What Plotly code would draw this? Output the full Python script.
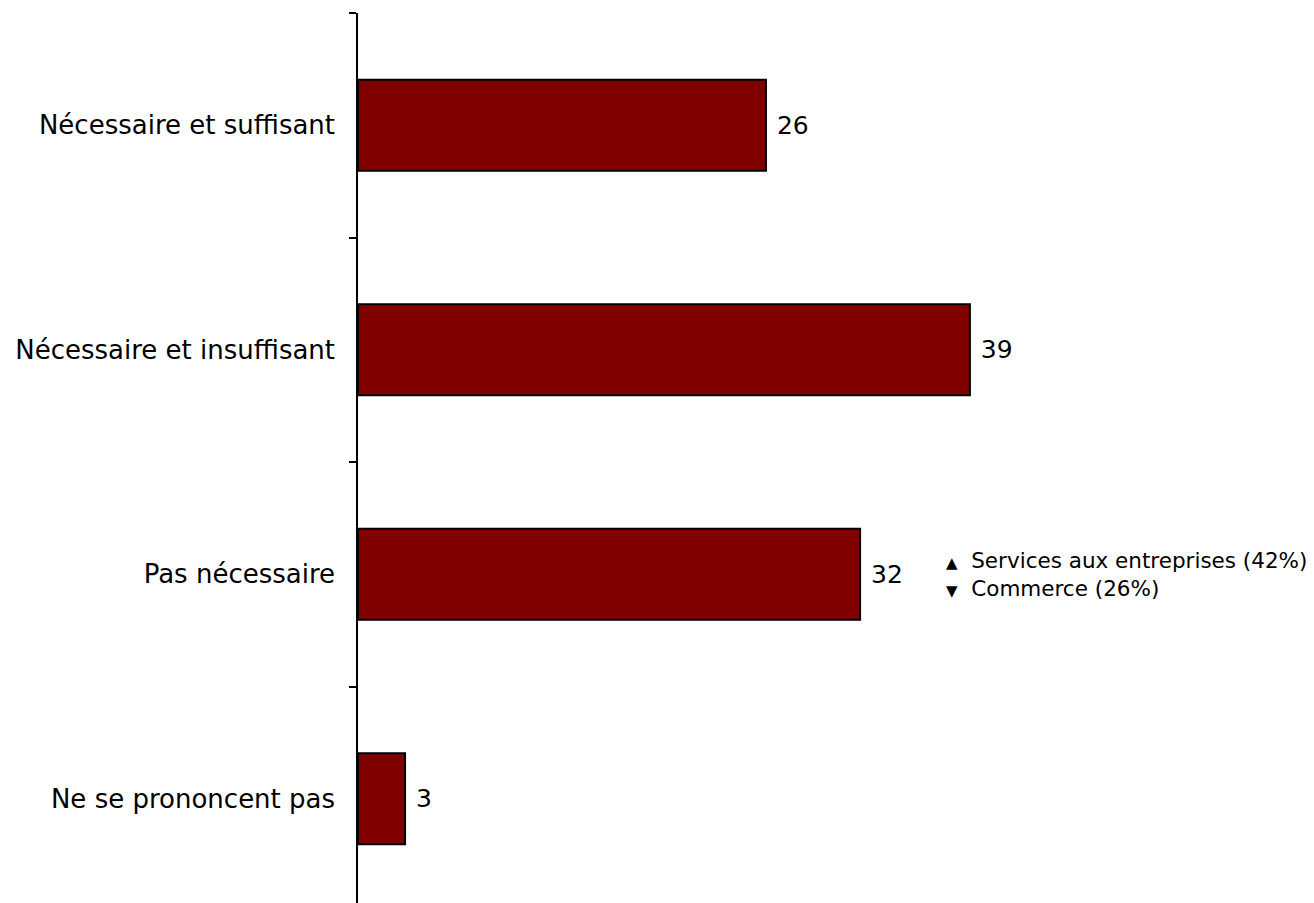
import plotly.graph_objects as go

categories = ["Nécessaire et suffisant", "Nécessaire et insuffisant", "Pas nécessaire", "Ne se prononcent pas"]
values = [26, 39, 32, 3]
note_markers = ["▲", "▼"]
note_texts = ["Services aux entreprises (42%)", "Commerce (26%)"]

FONT = "DejaVu Sans"

fig = go.Figure()
fig.add_trace(go.Bar(
    y=categories, x=values, orientation="h",
    marker=dict(color="#800000", line=dict(color="black", width=2)),
    text=[" " + str(v) for v in values], textposition="outside",
    textfont=dict(family=FONT, size=25, color="black"),
    cliponaxis=False,
))

fig.update_layout(
    width=1306, height=903,
    margin=dict(l=350, r=0, t=5, b=0),
    plot_bgcolor="white", paper_bgcolor="white",
    bargap=0.595, showlegend=False,
    font=dict(family=FONT, size=25, color="black"),
    xaxis=dict(range=[0, (1306 - 350) / 15.69], visible=False),
    yaxis=dict(autorange="reversed", showline=True, linecolor="black", linewidth=1.5,
               ticks="outside", ticklen=7, tickwidth=1.5, tickcolor="black",
               tickson="boundaries", ticklabelstandoff=16,
               tickfont=dict(family=FONT, size=26, color="black")),
)

lines = [f"<span style='font-size:15px'>{m}</span>  {t}" for m, t in zip(note_markers, note_texts)]
fig.add_annotation(
    xref="x", yref="y", x=37.35, y=categories[2], xanchor="left", yanchor="middle",
    text="<br>".join(lines), showarrow=False, align="left",
    font=dict(family=FONT, size=21.5, color="black"),
)

fig.write_html("out.html")
